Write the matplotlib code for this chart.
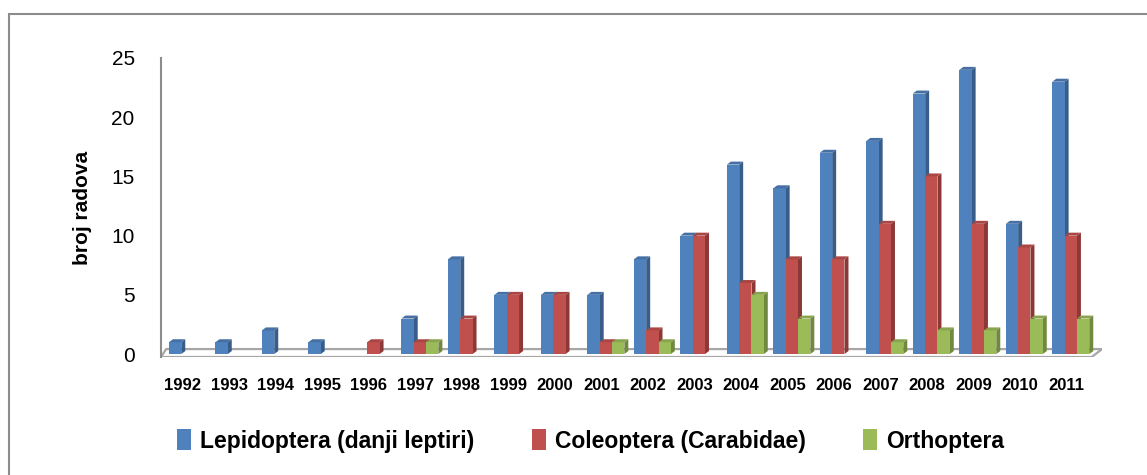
import numpy as np
import matplotlib
matplotlib.use('Agg')
import matplotlib.pyplot as plt
from matplotlib.patches import Polygon, Rectangle, Patch

plt.rcParams['font.family'] = ['Liberation Sans', 'DejaVu Sans']

# data
years = ['1992', '1993', '1994', '1995', '1996', '1997', '1998', '1999', '2000', '2001',
         '2002', '2003', '2004', '2005', '2006', '2007', '2008', '2009', '2010', '2011']
lepidoptera = [1, 1, 2, 1, 0, 3, 8, 5, 5, 5, 8, 10, 16, 14, 17, 18, 22, 24, 11, 23]
coleoptera = [0, 0, 0, 0, 1, 1, 3, 5, 5, 1, 2, 10, 6, 8, 8, 11, 15, 11, 9, 10]
orthoptera = [0, 0, 0, 0, 0, 1, 0, 0, 0, 1, 1, 0, 5, 3, 0, 1, 2, 2, 3, 3]
labels = ['Lepidoptera (danji leptiri)', 'Coleoptera (Carabidae)', 'Orthoptera']

# front, side, top colours (Office 2007 style)
colors = [('#4F81BD', '#385D8A', '#466FA3'),
          ('#C0504D', '#8C3836', '#A94643'),
          ('#9BBB59', '#71893F', '#88A44E')]

fig = plt.figure(figsize=(11.47, 4.75), dpi=100)
ax = fig.add_axes([0.1404, 0.2484, 0.8204, 0.6295])

x = np.arange(len(years))
w = 0.265
offsets = [-0.30, -0.035, 0.23]
dx, dy = 0.086, 0.25   # fake depth for the 3d look

xlo, xhi = -0.47, 19.77
ylo, yhi = -0.25, 25

# floor
floor = Polygon([(xlo, ylo), (19.55, ylo), (19.77, 0.42), (-0.36, 0.42)],
                closed=True, facecolor='white', edgecolor='#a6a6a6', lw=1.6, zorder=1)
ax.add_patch(floor)

series = [lepidoptera, coleoptera, orthoptera]
for k, vals in enumerate(series):
    front, side, top = colors[k]
    v = np.array(vals, dtype=float)
    h = np.where(v > 0, v, np.nan)
    bars = ax.bar(x + offsets[k], h, width=w, align='edge', color=front,
                  edgecolor='none', zorder=3 + 2 * k)
    for b in bars:
        bh = b.get_height()
        if not np.isfinite(bh) or bh <= 0:
            continue
        bx, bw = b.get_x(), b.get_width()
        ax.add_patch(Polygon([(bx + bw, 0), (bx + bw + dx, dy), (bx + bw + dx, bh + dy), (bx + bw, bh)],
                             closed=True, facecolor=side, edgecolor='none', zorder=2 + 2 * k))
        ax.add_patch(Polygon([(bx, bh), (bx + dx, bh + dy), (bx + bw + dx, bh + dy), (bx + bw, bh)],
                             closed=True, facecolor=top, edgecolor='none', zorder=3 + 2 * k))

ax.set_xlim(xlo, xhi)
ax.set_ylim(ylo, yhi)
ax.set_xticks(x)
ax.set_xticklabels(years, fontsize=12, fontweight='bold')
ax.set_yticks(range(0, 26, 5))
ax.tick_params(axis='y', length=0, labelsize=15, pad=19)
ax.tick_params(axis='x', length=0, pad=15)
ax.set_ylabel('broj radova', fontsize=15, fontweight='bold', labelpad=14)

for s in ['top', 'right', 'bottom']:
    ax.spines[s].set_visible(False)
ax.spines['left'].set_color('#8c8c8c')
ax.spines['left'].set_linewidth(1.5)
ax.patch.set_visible(False)

handles = [Patch(facecolor=c[0], edgecolor='none') for c in colors]
fig.legend(handles, labels, loc='center', bbox_to_anchor=(0.515, 1 - 441 / 475), ncol=3,
           frameon=False, prop={'size': 16.5, 'weight': 'bold'},
           handlelength=0.6, handleheight=1.0, handletextpad=0.4, columnspacing=2.5)

# outer chart border (cropped on the right and bottom)
fig.patches.append(Rectangle((9 / 1147, -0.1), 1.2, 1 - 14 / 475 + 0.1, transform=fig.transFigure,
                             fill=False, edgecolor='#8c8c8c', lw=1.5))

fig.savefig('out.png', dpi=100)
